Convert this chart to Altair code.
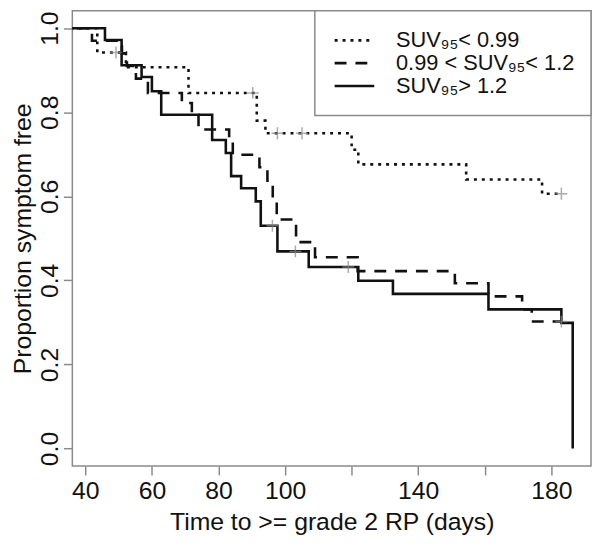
import altair as alt
import pandas as pd

# ---- data (Kaplan-Meier steps) ----
labels = ["SUV\u2089\u2085< 0.99", "0.99 < SUV\u2089\u2085< 1.2", "SUV\u2089\u2085> 1.2"]

low_time = [0, 43.6, 52.2, 71.0, 91.5, 94.1, 120.0, 122.0, 154.4, 177.2, 183.0]
low_surv = [1.0, 0.942, 0.907, 0.846, 0.780, 0.750, 0.711, 0.676, 0.640, 0.606, 0.606]
low_cens_time = [49.2, 90.3, 97.7, 105.1, 183.0]
low_cens_surv = [0.942, 0.846, 0.750, 0.750, 0.606]

mid_time = [0, 42.0, 51.0, 52.5, 55.2, 58.8, 69.0, 72.0, 74.0, 83.2, 84.3, 92.3,
            94.7, 96.3, 97.5, 103.3, 109.0, 121.8, 151.0, 161.1, 171.2, 174.1, 183.0]
mid_surv = [1.0, 0.970, 0.940, 0.910, 0.880, 0.846, 0.822, 0.794, 0.759, 0.729, 0.699, 0.669,
            0.637, 0.600, 0.545, 0.491, 0.455, 0.422, 0.393, 0.362, 0.331, 0.302, 0.302]
mid_cens_time = [183.0]
mid_cens_surv = [0.302]

high_time = [0, 45.9, 50.9, 56.9, 60.0, 62.8, 78.1, 82.2, 83.8, 86.8, 91.2, 92.7,
             97.7, 107.1, 122.0, 132.4, 161.1, 183.0, 186.4]
high_surv = [1.0, 0.972, 0.912, 0.884, 0.850, 0.794, 0.734, 0.703, 0.648, 0.619, 0.588, 0.530,
             0.469, 0.432, 0.399, 0.368, 0.331, 0.299, 0.0]
high_cens_time = [96.2, 103.1, 119.0]
high_cens_surv = [0.530, 0.469, 0.432]

x_ticks = [40, 60, 80, 100, 120, 140, 160, 180]
y_ticks = [0.0, 0.2, 0.4, 0.6, 0.8, 1.0]

# ---- tables ----
def steps(label, t, s):
    return pd.DataFrame({"group": label, "time": t, "surv": s, "idx": range(len(t))})

lines_df = pd.concat([
    steps(labels[0], low_time, low_surv),
    steps(labels[1], mid_time, mid_surv),
    steps(labels[2], high_time, high_surv),
], ignore_index=True)

cens_df = pd.concat([
    pd.DataFrame({"group": labels[0], "time": low_cens_time, "surv": low_cens_surv}),
    pd.DataFrame({"group": labels[1], "time": mid_cens_time, "surv": mid_cens_surv}),
    pd.DataFrame({"group": labels[2], "time": high_cens_time, "surv": high_cens_surv}),
], ignore_index=True)

FONT = "Liberation Sans"
GRAY = "#8a8a8a"
dashes = [[3, 5], [12, 9], [1, 0]]

x_enc = alt.X("time:Q",
              scale=alt.Scale(domain=[36.1, 191.9], nice=False, zero=False),
              axis=alt.Axis(values=x_ticks,
                            labelExpr="(datum.value == 120 || datum.value == 160) ? '' : datum.label",
                            title="Time to >= grade 2 RP (days)",
                            labelPadding=4, titleBaseline="alphabetic", titleY=64))
y_enc = alt.Y("surv:Q",
              scale=alt.Scale(domain=[-0.0416, 1.0416], nice=False, zero=False),
              axis=alt.Axis(values=y_ticks, format=".1f", title="Proportion symptom free",
                            labelAngle=270, labelAlign="center", labelBaseline="alphabetic",
                            labelPadding=6, titleAngle=270, titleX=-42, titleY=230,
                            titleAlign="center", titleBaseline="alphabetic"))

lines = alt.Chart(lines_df).mark_line(interpolate="step-after", strokeWidth=2.6,
                                      color="#111", clip=True).encode(
    x=x_enc, y=y_enc,
    strokeDash=alt.StrokeDash("group:N", scale=alt.Scale(domain=labels, range=dashes), legend=None),
    detail="group:N",
    order="idx:Q",
)

cens = alt.Chart(cens_df).mark_point(shape="M-1,0H1M0,-1V1", size=144, filled=False,
                                     color=GRAY, strokeWidth=1.5).encode(
    x="time:Q", y="surv:Q")

one = pd.DataFrame({"k": [0]})
legend_box = alt.Chart(one).mark_rect(fill="white", stroke=GRAY, strokeWidth=1.5).encode(
    x=alt.value(245), x2=alt.value(524), y=alt.value(0), y2=alt.value(106))

row_y = [30, 53, 76]
legend_layers = []
for i, lab in enumerate(labels):
    d = pd.DataFrame({"label": [lab]})
    legend_layers.append(
        alt.Chart(d).mark_rule(strokeDash=dashes[i], strokeWidth=2.6, color="#111").encode(
            x=alt.value(265), x2=alt.value(305), y=alt.value(row_y[i])))
    legend_layers.append(
        alt.Chart(d).mark_text(align="left", baseline="middle", font=FONT, fontSize=22,
                               color="#111").encode(
            text="label:N", x=alt.value(327), y=alt.value(row_y[i])))

chart = alt.layer(lines, cens, legend_box, *legend_layers).properties(
    width=524, height=460,
    padding={"left": 65, "top": 0, "right": 1, "bottom": 70},
    autosize=alt.AutoSizeParams(type="none"),
).configure_view(stroke=GRAY, strokeWidth=1.5).configure_axis(
    grid=False, domain=False, tickSize=9, tickColor=GRAY, tickWidth=1.5,
    labelFont=FONT, labelFontSize=25, labelColor="#111",
    titleFont=FONT, titleFontSize=25, titleFontWeight="normal", titleColor="#111",
)

chart.save("out.html", embed_options={"renderer": "svg", "actions": False})
